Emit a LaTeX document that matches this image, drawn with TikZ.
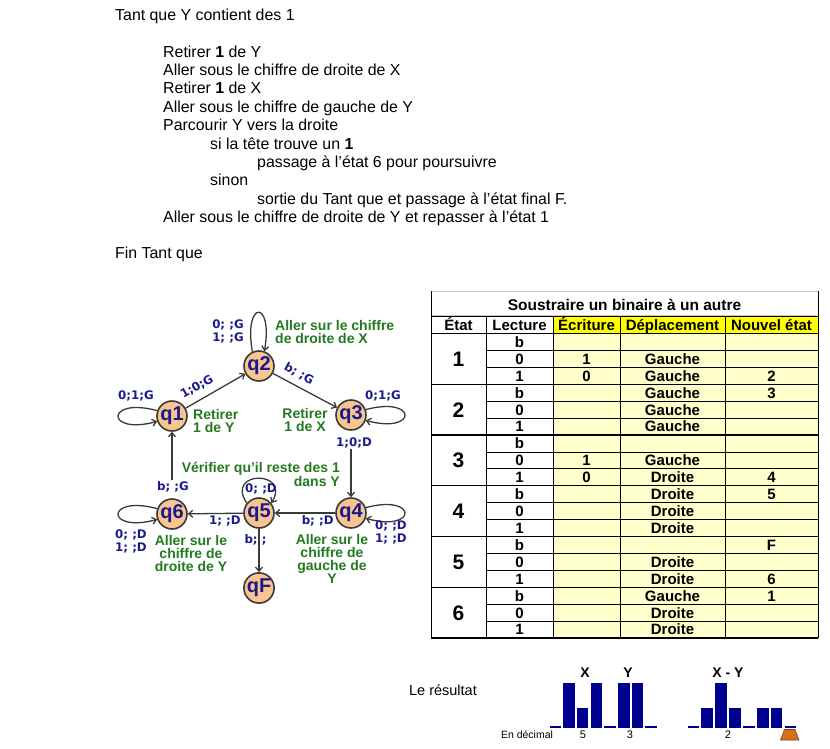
\documentclass[tikz,border=0pt]{standalone}
\usepackage{fontspec}
\setmainfont{Liberation Sans}
\newfontfamily\lblfont{DejaVu Sans}
\usetikzlibrary{arrows.meta}
\definecolor{stfill}{HTML}{F8C58E}
\definecolor{stdraw}{HTML}{3A3A3A}
\definecolor{lblue}{HTML}{1A1A8E}
\definecolor{lgreen}{HTML}{237A1E}
\definecolor{hdyellow}{HTML}{FFFF00}
\definecolor{cellyellow}{HTML}{FFFFCC}
\definecolor{barblue}{HTML}{000090}
\definecolor{headorange}{HTML}{D5711C}
\definecolor{headdark}{HTML}{8A4510}
\definecolor{gridgray}{HTML}{C8C8C8}
\begin{document}
\begin{tikzpicture}[x=1pt,y=-1pt,
  state/.style={circle, draw=stdraw, line width=1.6pt, fill=stfill, minimum size=30pt, inner sep=0pt, font=\fontsize{20}{20}\selectfont\bfseries, text=lblue},
  edge/.style={draw=stdraw, line width=1.3pt, -{Straight Barb[length=4pt,width=7pt]}},
  elab/.style={font=\lblfont\fontsize{11.8}{13}\selectfont\bfseries, text=lblue, inner sep=1pt, align=center},
  note/.style={font=\fontsize{14}{13}\selectfont\bfseries, text=lgreen, inner sep=0pt},
  prog/.style={font=\fontsize{15.9}{18}\selectfont, anchor=base west, inner sep=0pt},
  tab/.style={font=\fontsize{15}{15}\selectfont\bfseries, inner sep=0pt, anchor=base},
  big/.style={font=\fontsize{21}{21}\selectfont\bfseries, inner sep=0pt, anchor=base},
  thinl/.style={line width=0.8pt, draw=black},
  grpl/.style={line width=1.3pt, draw=black},
  bar/.style={fill=barblue},
]
\useasboundingbox (0,0) rectangle (830,748);

% ---------- program text ----------
\node[prog] (t0) at (115,20.5) {Tant que Y contient des 1};
\node[prog] (t1) at (163,57) {Retirer \textbf{1} de Y};
\node[prog] (t2) at (163,75.4) {Aller sous le chiffre de droite de X};
\node[prog] (t3) at (163,93.8) {Retirer \textbf{1} de X};
\node[prog] (t4) at (163,112.2) {Aller sous le chiffre de gauche de Y};
\node[prog] (t5) at (163,130.6) {Parcourir Y vers la droite};
\node[prog] (t6) at (210,149) {si la tête trouve un \textbf{1}};
\node[prog] (t7) at (257,167.4) {passage à l'état 6 pour poursuivre};
\node[prog] (t8) at (210,185.8) {sinon};
\node[prog] (t9) at (257,204.2) {sortie du Tant que et passage à l'état final F.};
\node[prog] (t10) at (163,222.6) {Aller sous le chiffre de droite de Y et repasser à l'état 1};
\node[prog] (t11) at (115,258.5) {Fin Tant que};

% ---------- automaton ----------
\node[state] (q1) at (172,416) {q1};
\node[state] (q2) at (259,366) {q2};
\node[state] (q3) at (351,415) {q3};
\node[state] (q4) at (351,513) {q4};
\node[state] (q5) at (259,513) {q5};
\node[state] (q6) at (172,514) {q6};
\node[state] (qF) at (259,588) {qF};

\draw[edge] (q1) -- (q2);
\node[elab, rotate=30] (l12) at (197,387) {1;0;G};
\draw[edge] (q2) -- (q3);
\node[elab, rotate=-28] (l23) at (299,374) {b; ;G};
\node[elab] (l34) at (354,443) {1;0;D};
\draw[edge] (l34.south -| q4) -- (q4);
\draw[edge] (q4) -- node[elab, below=1pt, pos=.29] {b; ;D} (q5);
\draw[edge] (q5) -- node[elab, below=1pt, pos=.33] {1; ;D} (q6);
\node[elab] (l61) at (173,487) {b; ;G};
\draw[edge] (l61.north -| q1) -- (q1);
\draw[edge] (q5) -- (qF);
\node[elab] (l5F) at (255.5,540) {b; ;};

% loops
\draw[edge] (q1.160) .. controls +(-52,-14) and +(-52,14) .. (q1.200);
\draw[edge] (q2.115) .. controls +(-9,-52) and +(9,-52) .. (q2.70);
\draw[edge] (q3.20) .. controls +(52,-14) and +(52,14) .. (q3.340);
\draw[edge] (q4.20) .. controls +(52,-14) and +(52,14) .. (q4.340);
\draw[edge] (q5.141) .. controls +(-22,-33) and +(20,-33) .. (q5.39);
\draw[edge] (q6.160) .. controls +(-52,-14) and +(-52,14) .. (q6.200);

\node[elab] (l11) at (136,396) {0;1;G};
\node[elab] (l22) at (228,331) {0; ;G\\1; ;G};
\node[elab] (l33) at (383,396) {0;1;G};
\node[elab] (l44) at (391,532) {0; ;D\\1; ;D};
\node[elab] (l55) at (261,489) {0; ;D};
\node[elab] (l66) at (131,541) {0; ;D\\1; ;D};

% notes
\node[note, align=left, anchor=west] (n2) at (275,332) {Aller sur le chiffre\\de droite de X};
\node[note, align=left, anchor=west] (n1) at (193,421) {Retirer\\1 de Y};
\node[note, align=center] (n3) at (305,420) {Retirer\\1 de X};
\node[note, align=right, anchor=east] (n5) at (340,474) {Vérifier qu'il reste des 1\\dans Y};
\node[note, align=center] (n6) at (191,553) {Aller sur le\\chiffre de\\droite de Y};
\node[note, align=center] (n4) at (332,559) {Aller sur le\\chiffre de\\gauche de\\Y};

% ---------- table ----------
\fill[hdyellow] (553,316) rectangle (818,333.5);
\fill[cellyellow] (553,333.5) rectangle (818,638);
\draw[gridgray, line width=0.6pt] (431,291) -- (818,291);
\draw[gridgray, line width=0.6pt] (431,315) -- (818,315);
\foreach \x in {486,553,620,725} \draw[thinl] (\x,316) -- (\x,638);
\draw[thinl] (431,316) -- (818,316);
\draw[grpl] (431,333.5) -- (818,333.5);
\foreach \r in {1,...,17} {
  \pgfmathtruncatemacro\m{mod(\r,3)}
  \ifnum\m=0
    \draw[grpl] (431,{333.5+\r*16.917}) -- (818,{333.5+\r*16.917});
  \else
    \draw[thinl] (486,{333.5+\r*16.917}) -- (818,{333.5+\r*16.917});
  \fi
}
\draw[thinl] (431,291) -- (431,638);
\draw[thinl] (818,291) -- (818,638);
\draw[grpl] (431,638) -- (818,638);

\node[tab, font=\fontsize{15.5}{15.5}\selectfont\bfseries] (title) at (624.5,310) {Soustraire un binaire à un autre};
\node[tab] (h1) at (458.5,330) {État};
\node[tab] (h2) at (519.5,330) {Lecture};
\node[tab] (h3) at (586.5,330) {Écriture};
\node[tab] (h4) at (672.5,330) {Déplacement};
\node[tab] (h5) at (771.5,330) {Nouvel état};

\foreach \k in {1,...,6}
  \node[big] (s\k) at (458.5,{333.5+(3*\k-1.5)*16.917+7.5}) {\k};

\foreach \r/\l/\e/\d/\n in {0/b/{}/{}/{}, 1/0/1/Gauche/{}, 2/1/0/Gauche/2,
  3/b/{}/Gauche/3, 4/0/{}/Gauche/{}, 5/1/{}/Gauche/{},
  6/b/{}/{}/{}, 7/0/1/Gauche/{}, 8/1/0/Droite/4,
  9/b/{}/Droite/5, 10/0/{}/Droite/{}, 11/1/{}/Droite/{},
  12/b/{}/{}/F, 13/0/{}/Droite/{}, 14/1/{}/Droite/6,
  15/b/{}/Gauche/1, 16/0/{}/Droite/{}, 17/1/{}/Droite/{}} {
  \node[tab] (c\r a) at (519.5,{333.5+(\r+0.5)*16.917+5.4}) {\l};
  \node[tab] (c\r b) at (586.5,{333.5+(\r+0.5)*16.917+5.4}) {\e};
  \node[tab] (c\r c) at (672.5,{333.5+(\r+0.5)*16.917+5.4}) {\d};
  \node[tab] (c\r d) at (771.5,{333.5+(\r+0.5)*16.917+5.4}) {\n};
}

% ---------- result ----------
\node[font=\fontsize{14.5}{14.5}\selectfont, inner sep=0pt] (res) at (443,690) {Le résultat};
\node[font=\fontsize{10.5}{10.5}\selectfont, inner sep=0pt] (dec) at (527,735) {En décimal};
\foreach \k/\v in {0/0,1/2,2/1,3/2,4/0,5/2,6/2,7/0} {
  \ifcase\v
    \fill[bar] ({549.5+\k*13.7},725.5) rectangle ++(11.5,2.8);
  \or
    \fill[bar] ({549.5+\k*13.7},708) rectangle ++(11.5,20.3);
  \or
    \fill[bar] ({549.5+\k*13.7},683) rectangle ++(11.5,45.3);
  \fi
}
\foreach \k/\v in {0/0,1/1,2/2,3/1,4/0,5/1,6/1,7/0} {
  \ifcase\v
    \fill[bar] ({687.5+\k*13.9},725.5) rectangle ++(11.5,2.8);
  \or
    \fill[bar] ({687.5+\k*13.9},708) rectangle ++(11.5,20.3);
  \or
    \fill[bar] ({687.5+\k*13.9},683) rectangle ++(11.5,45.3);
  \fi
}
\node[font=\fontsize{14}{14}\selectfont\bfseries, inner sep=0pt] (lx) at (585,673) {X};
\node[font=\fontsize{14}{14}\selectfont\bfseries, inner sep=0pt] (ly) at (628,673) {Y};
\node[font=\fontsize{14}{14}\selectfont\bfseries, inner sep=0pt] (lxy) at (728,673) {X - Y};
\node[font=\fontsize{11}{11}\selectfont, inner sep=0pt] (v5) at (583,735) {5};
\node[font=\fontsize{11}{11}\selectfont, inner sep=0pt] (v3) at (630,735) {3};
\node[font=\fontsize{11}{11}\selectfont, inner sep=0pt] (v2) at (728,735) {2};
\draw[fill=headorange, draw=headdark, line width=0.6pt] (780.5,740) -- (784.5,729.5) -- (795,729.5) -- (799,740) -- cycle;
\end{tikzpicture}
\end{document}
